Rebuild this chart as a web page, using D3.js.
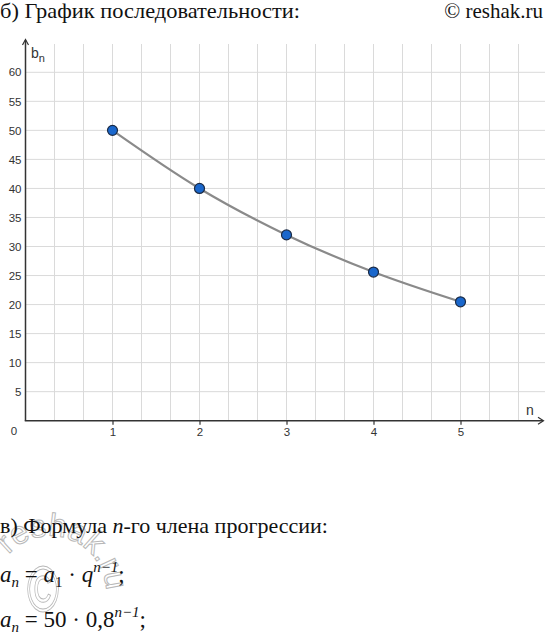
<!DOCTYPE html>
<html><head><meta charset="utf-8">
<script src="https://cdn.jsdelivr.net/npm/d3@7"></script>
<style>
body{margin:0;background:#fff;}
svg{display:block;}
</style></head>
<body>
<svg id="c" width="545" height="634"></svg>
<script>
const nValues = [1, 2, 3, 4, 5];
const bValues = [50, 40, 32, 25.6, 20.48];
const xTicks = [1, 2, 3, 4, 5];
const yTicks = [5, 10, 15, 20, 25, 30, 35, 40, 45, 50, 55, 60];
const xGrid = d3.range(1, 18).map(k => k / 3);
const titleTop = "б) График последовательности:";
const copyright = "© reshak.ru";
const titleBottom = "в) Формула ";

const svg = d3.select("#c");
const x = d3.scaleLinear().domain([0, 6]).range([25.5, 547.5]);
const y = d3.scaleLinear().domain([0, 60]).range([420.7, 72.3]);
const yTopGrid = 44;
const xRightEnd = 545;
const sans = "Liberation Sans, Arial, sans-serif";
const serif = "Liberation Serif, Times New Roman, serif";

// watermark
const wm = svg.append("g").attr("fill", "none").attr("stroke", "#b8b8b8").attr("stroke-width", 1);
const arcPath = d3.path();
arcPath.arc(50, 592, 56, -138 * Math.PI / 180, 40 * Math.PI / 180);
svg.append("defs").append("path").attr("id", "wmArc").attr("d", arcPath.toString());
wm.append("text").attr("font-family", sans).attr("font-size", 32)
  .append("textPath").attr("href", "#wmArc").attr("startOffset", 0).text("reshak.ru");
wm.append("text").attr("x", 0).attr("y", 0).attr("text-anchor", "middle")
  .attr("font-family", sans).attr("font-size", 64)
  .attr("transform", "translate(43,611) scale(0.68,1)")
  .text("©");

// grid
const grid = svg.append("g").attr("stroke", "#dadada").attr("stroke-width", 1);
grid.selectAll("line.v").data(xGrid).join("line")
  .attr("x1", d => x(d)).attr("x2", d => x(d)).attr("y1", yTopGrid).attr("y2", y(0));
grid.selectAll("line.h").data(yTicks).join("line")
  .attr("x1", x(0)).attr("x2", xRightEnd).attr("y1", d => y(d)).attr("y2", d => y(d));

// axes labels via d3 axes
const yAxis = svg.append("g").attr("transform", `translate(${x(0)},0)`)
  .call(d3.axisLeft(y).tickValues(yTicks).tickSize(0).tickPadding(4));
yAxis.select(".domain").remove();
yAxis.selectAll("text").attr("font-family", sans).attr("font-size", 11.5).attr("fill", "#333");

const xAxis = svg.append("g").attr("transform", `translate(0,${y(0)})`)
  .call(d3.axisBottom(x).tickValues(xTicks).tickFormat(d3.format("d")).tickSize(4).tickPadding(3));
xAxis.select(".domain").remove();
xAxis.selectAll("line").attr("stroke", "#333").attr("stroke-width", 1.2);
xAxis.selectAll("text").attr("font-family", sans).attr("font-size", 11.5).attr("fill", "#333");

svg.append("text").attr("x", 14).attr("y", 435).attr("text-anchor", "middle")
  .attr("font-family", sans).attr("font-size", 11.5).attr("fill", "#333").text("0");

// axis lines with arrows
const ax = svg.append("g").attr("stroke", "#333").attr("stroke-width", 1.5).attr("fill", "none");
ax.append("line").attr("x1", x(0)).attr("x2", x(0)).attr("y1", y(0)).attr("y2", 40);
ax.append("path").attr("d", `M${x(0) - 3},${45} L${x(0)},${39.5} L${x(0) + 3},${45}`).attr("stroke-width", 1.2);
ax.append("line").attr("x1", x(0) - 0.75).attr("x2", 543).attr("y1", y(0)).attr("y2", y(0));
ax.append("path").attr("d", `M${538},${y(0) - 3.5} L${543.5},${y(0)} L${538},${y(0) + 3.5}`).attr("stroke-width", 1.2);

// axis names
const an = svg.append("text").attr("x", 31).attr("y", 58).attr("font-family", sans).attr("fill", "#333");
an.append("tspan").attr("font-size", 14).text("b");
an.append("tspan").attr("font-size", 11).attr("dy", 4).text("n");
svg.append("text").attr("x", 526).attr("y", 415).attr("font-family", sans)
  .attr("font-size", 14).attr("fill", "#333").text("n");

// series line and points
const pts = nValues.map((n, i) => [n, bValues[i]]);
svg.append("path").datum(pts)
  .attr("d", d3.line().x(d => x(d[0])).y(d => y(d[1])).curve(d3.curveMonotoneX))
  .attr("fill", "none").attr("stroke", "#8a8a8a").attr("stroke-width", 2.2);
svg.selectAll("circle.p").data(pts).join("circle")
  .attr("cx", d => x(d[0])).attr("cy", d => y(d[1])).attr("r", 5)
  .attr("fill", "#1a67cc").attr("stroke", "#1b2b45").attr("stroke-width", 1.2);

// header texts
svg.append("text").attr("x", 0).attr("y", 18).attr("font-family", serif)
  .attr("font-size", 21).attr("fill", "#111").attr("textLength", 300).attr("lengthAdjust", "spacingAndGlyphs").text(titleTop);
svg.append("text").attr("x", 543).attr("y", 18).attr("text-anchor", "end").attr("font-family", serif)
  .attr("font-size", 21).attr("fill", "#111").text(copyright);

// bottom text
const t1 = svg.append("text").attr("x", 0).attr("y", 533).attr("font-family", serif).attr("font-size", 22).attr("fill", "#111");
t1.append("tspan").text(titleBottom);
t1.append("tspan").attr("font-style", "italic").text("n");
t1.append("tspan").text("-го члена прогрессии:");

function formula(yPos, parts) {
  const t = svg.append("text").attr("x", 0).attr("y", yPos).attr("font-family", serif).attr("font-size", 23).attr("fill", "#111");
  parts.forEach(p => {
    const s = t.append("tspan").text(p.t);
    if (p.i) s.attr("font-style", "italic");
    if (p.dy) s.attr("dy", p.dy);
    if (p.fs) s.attr("font-size", p.fs);
  });
}
formula(582, [
  {t: "a", i: 1}, {t: "n", i: 1, dy: 5, fs: 15}, {t: " = ", dy: -5}, {t: "a", i: 1},
  {t: "1", dy: 5, fs: 15}, {t: " · ", dy: -5}, {t: "q", i: 1}, {t: "n−1", i: 1, dy: -10, fs: 15}, {t: ";", dy: 10}
]);
formula(627, [
  {t: "a", i: 1}, {t: "n", i: 1, dy: 5, fs: 15}, {t: " = 50 · 0,8", dy: -5},
  {t: "n−1", i: 1, dy: -10, fs: 15}, {t: ";", dy: 10}
]);
</script>
</body></html>
